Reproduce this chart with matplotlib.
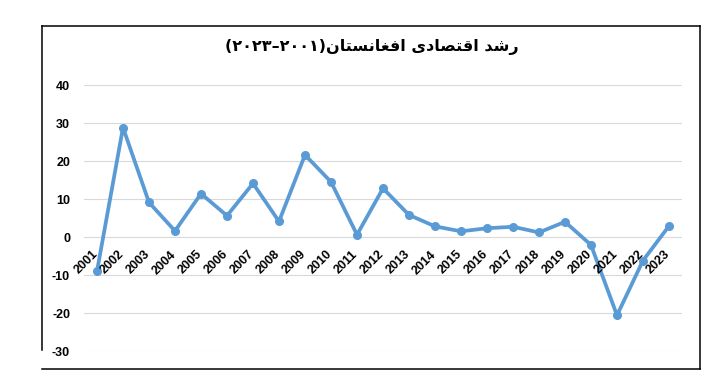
import numpy as np
import matplotlib.pyplot as plt
from matplotlib.lines import Line2D

# ---- дані: економічне зростання Афганістану, %
years = ['2001', '2002', '2003', '2004', '2005', '2006', '2007', '2008', '2009', '2010',
         '2011', '2012', '2013', '2014', '2015', '2016', '2017', '2018', '2019', '2020',
         '2021', '2022', '2023']
growth = [-9.0, 28.8, 9.1, 1.6, 11.4, 5.6, 14.1, 4.1, 21.6, 14.5,
          0.6, 12.8, 5.8, 2.8, 1.5, 2.3, 2.7, 1.2, 4.0, -2.1,
          -20.6, -6.2, 2.9]
yticks = [-30, -20, -10, 0, 10, 20, 30, 40]

# ---- заголовок: ручне формування арабських форм і візуальний порядок (RTL)
w1 = '\uFEAD\uFEB7\uFEAA'                                   # رشد
w2 = '\uFE8D\uFED7\uFE98\uFEBC\uFE8E\uFEA9\uFEEF'           # اقتصادی
w3 = '\uFE8D\uFED3\uFED0\uFE8E\uFEE7\uFEB4\uFE98\uFE8E\uFEE5'  # افغانستان
title = '(\u06F2\u06F0\u06F2\u06F3\u2013\u06F2\u06F0\u06F0\u06F1)' + w3[::-1] + ' ' + w2[::-1] + ' ' + w1[::-1]

W, H = 725, 388
fig = plt.figure(figsize=(W / 100, H / 100), dpi=100)
ax = fig.add_axes([84 / W, 1 - 351 / H, 598 / W, 266 / H])

x = np.arange(len(years))
ax.plot(x, growth, color='#5B9BD5', lw=2.7, marker='o', ms=5.5, zorder=3)

ax.set_xlim(-0.5, len(years) - 0.5)
ax.set_ylim(-30, 40)
ax.set_yticks(yticks)
ax.set_yticklabels([str(v) for v in yticks], fontsize=9, fontweight='bold',
                   family='Liberation Sans')
ax.tick_params(axis='y', length=0, pad=10)
ax.set_xticks([])
ax.grid(axis='y', color='#D9D9D9', lw=0.8)
ax.set_axisbelow(True)
for s in ax.spines.values():
    s.set_visible(False)

# підписи років під нульовою лінією
for i, yr in enumerate(years):
    ax.text(i + 0.12, -3.0, yr, rotation=45, ha='right', va='top',
            fontsize=9, fontweight='bold', family='Liberation Sans')

fig.text(372 / W, 1 - 47 / H, title, ha='center', va='center',
         fontsize=11.5, fontweight='bold', family='DejaVu Sans')

# рамка
def fl(x0, y0, x1, y1):
    fig.add_artist(Line2D([x0 / W, x1 / W], [1 - y0 / H, 1 - y1 / H],
                          color='black', lw=1.1))

fl(42, 26, 700, 26)
fl(700, 26, 700, 369)
fl(42, 369, 700, 369)
fl(42, 26, 42, 350)

fig.savefig('out.png', dpi=100)
